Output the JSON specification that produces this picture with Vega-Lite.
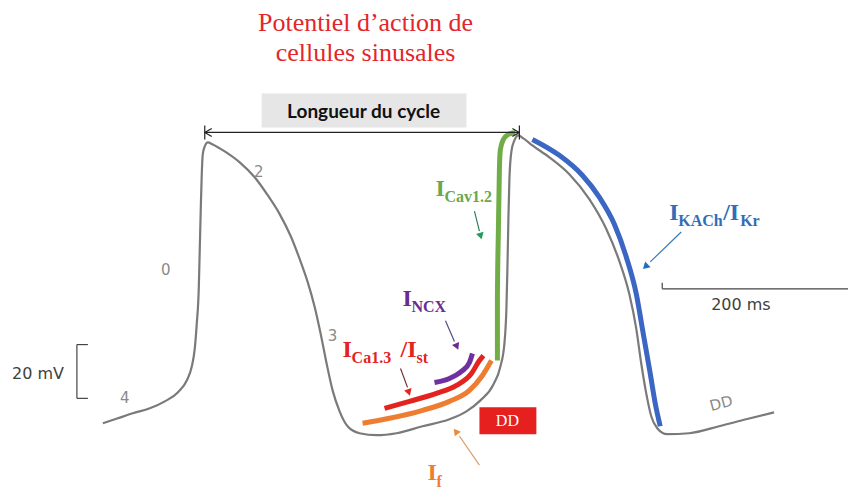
{
  "$schema": "https://vega.github.io/schema/vega-lite/v6.json",
  "width": 849,
  "height": 490,
  "autosize": {"type": "fit", "contains": "padding"},
  "padding": 0,
  "background": "white",
  "config": {"view": {"stroke": null}},
  "resolve": {"scale": {"stroke": "independent", "fill": "independent", "color": "independent", "size": "independent"}},
  "datasets": {
    "trace": [
      {"s":"AP","o":0,"x":103,"y":425},{"s":"AP","o":1,"x":118,"y":420},{"s":"AP","o":2,"x":133,"y":415},{"s":"AP","o":3,"x":150,"y":410},
      {"s":"AP","o":4,"x":165,"y":403},{"s":"AP","o":5,"x":178,"y":394},{"s":"AP","o":6,"x":187,"y":382},{"s":"AP","o":7,"x":192,"y":368},
      {"s":"AP","o":8,"x":195,"y":350},{"s":"AP","o":9,"x":197,"y":325},{"s":"AP","o":10,"x":199,"y":290},{"s":"AP","o":11,"x":200,"y":250},
      {"s":"AP","o":12,"x":201,"y":210},{"s":"AP","o":13,"x":202,"y":175},{"s":"AP","o":14,"x":203,"y":155},{"s":"AP","o":15,"x":205,"y":147},
      {"s":"AP","o":16,"x":208,"y":143},{"s":"AP","o":17,"x":213,"y":145},{"s":"AP","o":18,"x":225,"y":152},{"s":"AP","o":19,"x":240,"y":163},
      {"s":"AP","o":20,"x":255,"y":178},{"s":"AP","o":21,"x":268,"y":196},{"s":"AP","o":22,"x":280,"y":215},{"s":"AP","o":23,"x":291,"y":237},
      {"s":"AP","o":24,"x":300,"y":260},{"s":"AP","o":25,"x":308,"y":283},{"s":"AP","o":26,"x":315,"y":308},{"s":"AP","o":27,"x":321,"y":335},
      {"s":"AP","o":28,"x":327,"y":365},{"s":"AP","o":29,"x":333,"y":392},{"s":"AP","o":30,"x":340,"y":413},{"s":"AP","o":31,"x":348,"y":428},
      {"s":"AP","o":32,"x":360,"y":435},{"s":"AP","o":33,"x":377,"y":437},{"s":"AP","o":34,"x":397,"y":435},{"s":"AP","o":35,"x":423,"y":428},
      {"s":"AP","o":36,"x":450,"y":421},{"s":"AP","o":37,"x":467,"y":413},{"s":"AP","o":38,"x":481,"y":402},{"s":"AP","o":39,"x":494,"y":386},
      {"s":"AP","o":40,"x":501,"y":368},{"s":"AP","o":41,"x":505,"y":345},{"s":"AP","o":42,"x":507,"y":310},{"s":"AP","o":43,"x":508,"y":270},
      {"s":"AP","o":44,"x":509,"y":220},{"s":"AP","o":45,"x":510,"y":180},{"s":"AP","o":46,"x":512,"y":152},{"s":"AP","o":47,"x":515,"y":141},
      {"s":"AP","o":48,"x":519,"y":136},{"s":"AP","o":49,"x":524,"y":139},{"s":"AP","o":50,"x":533,"y":146},{"s":"AP","o":51,"x":550,"y":158},
      {"s":"AP","o":52,"x":570,"y":175},{"s":"AP","o":53,"x":590,"y":200},{"s":"AP","o":54,"x":607,"y":230},{"s":"AP","o":55,"x":620,"y":262},
      {"s":"AP","o":56,"x":630,"y":295},{"s":"AP","o":57,"x":637,"y":330},{"s":"AP","o":58,"x":642,"y":365},{"s":"AP","o":59,"x":647,"y":395},
      {"s":"AP","o":60,"x":652,"y":418},{"s":"AP","o":61,"x":658,"y":430},{"s":"AP","o":62,"x":668,"y":436},{"s":"AP","o":63,"x":690,"y":435},
      {"s":"AP","o":64,"x":720,"y":428},{"s":"AP","o":65,"x":747,"y":421},{"s":"AP","o":66,"x":775,"y":414},
      {"s":"Cav","o":0,"x":498,"y":362},{"s":"Cav","o":1,"x":498,"y":300},{"s":"Cav","o":2,"x":499,"y":230},{"s":"Cav","o":3,"x":500,"y":170},
      {"s":"Cav","o":4,"x":501,"y":150},{"s":"Cav","o":5,"x":504,"y":140},{"s":"Cav","o":6,"x":509,"y":135},{"s":"Cav","o":7,"x":516,"y":133},
      {"s":"f","o":0,"x":363,"y":425},{"s":"f","o":1,"x":390,"y":420},{"s":"f","o":2,"x":423,"y":412},{"s":"f","o":3,"x":450,"y":403},
      {"s":"f","o":4,"x":470,"y":392},{"s":"f","o":5,"x":483,"y":377},{"s":"f","o":6,"x":492,"y":362},
      {"s":"Ca13","o":0,"x":385,"y":410},{"s":"Ca13","o":1,"x":410,"y":403},{"s":"Ca13","o":2,"x":437,"y":395},{"s":"Ca13","o":3,"x":457,"y":387},
      {"s":"Ca13","o":4,"x":472,"y":375},{"s":"Ca13","o":5,"x":480,"y":362},{"s":"Ca13","o":6,"x":484,"y":357},
      {"s":"NCX","o":0,"x":435,"y":384},{"s":"NCX","o":1,"x":450,"y":380},{"s":"NCX","o":2,"x":462,"y":373},{"s":"NCX","o":3,"x":470,"y":364},
      {"s":"NCX","o":4,"x":473,"y":355},
      {"s":"K","o":0,"x":533,"y":140},{"s":"K","o":1,"x":560,"y":156},{"s":"K","o":2,"x":583,"y":176},{"s":"K","o":3,"x":600,"y":198},
      {"s":"K","o":4,"x":615,"y":225},{"s":"K","o":5,"x":627,"y":258},{"s":"K","o":6,"x":637,"y":295},{"s":"K","o":7,"x":644,"y":335},
      {"s":"K","o":8,"x":651,"y":375},{"s":"K","o":9,"x":656,"y":405},{"s":"K","o":10,"x":661,"y":428}
    ],
    "segments": [
      {"k":"black","x":205,"y":133,"x2":520,"y2":133},
      {"k":"black","x":205,"y":126,"x2":205,"y2":140},
      {"k":"black","x":520,"y":126,"x2":520,"y2":140},
      {"k":"black","x":205,"y":133,"x2":212,"y2":129},
      {"k":"black","x":205,"y":133,"x2":212,"y2":137},
      {"k":"black","x":520,"y":133,"x2":513,"y2":129},
      {"k":"black","x":520,"y":133,"x2":513,"y2":137},
      {"k":"dark","x":77,"y":346,"x2":77,"y2":400},
      {"k":"dark","x":77,"y":346,"x2":88,"y2":346},
      {"k":"dark","x":77,"y":400,"x2":88,"y2":400},
      {"k":"dark","x":663,"y":290,"x2":849,"y2":290},
      {"k":"dark","x":663,"y":284,"x2":663,"y2":290},
      {"k":"Cav","x":475,"y":212,"x2":480,"y2":232},
      {"k":"NCX","x":446,"y":322,"x2":455,"y2":343},
      {"k":"Ca13","x":401,"y":370,"x2":408,"y2":389},
      {"k":"f","x":480,"y":467,"x2":460,"y2":438},
      {"k":"K","x":682,"y":233,"x2":651,"y2":263}
    ],
    "heads": [
      {"k":"Cav","x":481,"y":236,"a":165},
      {"k":"NCX","x":457,"y":347,"a":156},
      {"k":"Ca13","x":409,"y":393,"a":162},
      {"k":"f","x":457,"y":434,"a":323},
      {"k":"K","x":647,"y":267,"a":226}
    ],
    "boxes": [
      {"b":"cycle","x":262,"y":94,"x2":467,"y2":128},
      {"b":"dd","x":480,"y":409,"x2":537,"y2":436}
    ],
    "titles": [
      {"t":"Potentiel d’action de","x":366,"y":31},
      {"t":"cellules sinusales","x":366,"y":61}
    ],
    "currents": [
      {"k":"Cav","r":"main","t":"I","x":436,"y":197},
      {"k":"Cav","r":"sub","t":"Cav1.2","x":445,"y":203},
      {"k":"NCX","r":"main","t":"I","x":403,"y":307},
      {"k":"NCX","r":"sub","t":"NCX","x":412,"y":313},
      {"k":"Ca13","r":"main","t":"I","x":343,"y":358},
      {"k":"Ca13","r":"sub","t":"Ca1.3","x":352,"y":364},
      {"k":"Ca13","r":"main","t":"/I","x":401,"y":358},
      {"k":"Ca13","r":"sub","t":"st","x":417,"y":364},
      {"k":"f","r":"main","t":"I","x":428,"y":482},
      {"k":"f","r":"sub","t":"f","x":437,"y":489},
      {"k":"K","r":"main","t":"I","x":670,"y":221},
      {"k":"K","r":"sub","t":"KACh","x":679,"y":227},
      {"k":"K","r":"main","t":"/I","x":724,"y":221},
      {"k":"K","r":"sub","t":"Kr","x":741,"y":227}
    ],
    "phases": [
      {"t":"0","x":166,"y":271},
      {"t":"2","x":259,"y":173},
      {"t":"3","x":333,"y":337},
      {"t":"4","x":125,"y":400}
    ],
    "scales": [
      {"t":"20 mV","x":12,"y":376},
      {"t":"200 ms","x":712,"y":306}
    ]
  },
  "layer": [
    {
      "data": {"name": "boxes"},
      "mark": {"type": "rect"},
      "encoding": {
        "x": {"field": "x", "type": "quantitative", "scale": {"domain": [0, 849], "nice": false, "zero": false}, "axis": null},
        "x2": {"field": "x2"},
        "y": {"field": "y", "type": "quantitative", "scale": {"domain": [0, 490], "nice": false, "zero": false, "reverse": true}, "axis": null},
        "y2": {"field": "y2"},
        "fill": {"field": "b", "type": "nominal", "scale": {"domain": ["cycle", "dd"], "range": ["#e7e6e6", "#e5201f"]}, "legend": null}
      }
    },
    {
      "data": {"name": "trace"},
      "transform": [{"filter": "datum.s === 'AP'"}],
      "mark": {"type": "line", "color": "#7a7a7a", "strokeWidth": 2.2, "strokeJoin": "round", "interpolate": "monotone"},
      "encoding": {
        "x": {"field": "x", "type": "quantitative"},
        "y": {"field": "y", "type": "quantitative"},
        "order": {"field": "o"}
      }
    },
    {
      "data": {"name": "trace"},
      "transform": [{"filter": "datum.s !== 'AP'"}],
      "mark": {"type": "line", "strokeWidth": 5, "strokeCap": "butt", "strokeJoin": "round", "interpolate": "monotone"},
      "encoding": {
        "x": {"field": "x", "type": "quantitative"},
        "y": {"field": "y", "type": "quantitative"},
        "order": {"field": "o"},
        "detail": {"field": "s"},
        "stroke": {"field": "s", "type": "nominal", "scale": {"domain": ["Cav", "NCX", "Ca13", "f", "K"], "range": ["#70ad47", "#7030a0", "#e3231e", "#ed7d31", "#3b66c3"]}, "legend": null}
      }
    },
    {
      "data": {"name": "segments"},
      "mark": {"type": "rule", "strokeWidth": 1.2},
      "encoding": {
        "x": {"field": "x", "type": "quantitative"},
        "x2": {"field": "x2"},
        "y": {"field": "y", "type": "quantitative"},
        "y2": {"field": "y2"},
        "stroke": {"field": "k", "type": "nominal", "scale": {"domain": ["black", "dark", "Cav", "NCX", "Ca13", "f", "K"], "range": ["#222222", "#444444", "#2e7d5b", "#5a4a8a", "#7a3030", "#d9a070", "#3c7ab5"]}, "legend": null}
      }
    },
    {
      "data": {"name": "heads"},
      "mark": {"type": "point", "shape": "triangle", "filled": true, "size": 60, "opacity": 1},
      "encoding": {
        "x": {"field": "x", "type": "quantitative"},
        "y": {"field": "y", "type": "quantitative"},
        "angle": {"field": "a", "type": "quantitative", "scale": null},
        "fill": {"field": "k", "type": "nominal", "scale": {"domain": ["Cav", "NCX", "Ca13", "f", "K"], "range": ["#1e9e5a", "#6a2c91", "#e3231e", "#ed8a3a", "#1f6fc0"]}, "legend": null}
      }
    },
    {
      "data": {"name": "titles"},
      "mark": {"type": "text", "font": "Liberation Serif", "fontSize": 26, "color": "#e3262c", "align": "center", "baseline": "alphabetic"},
      "encoding": {
        "x": {"field": "x", "type": "quantitative"},
        "y": {"field": "y", "type": "quantitative"},
        "text": {"field": "t"}
      }
    },
    {
      "data": {"values": [{"t": "Longueur du cycle", "x": 364, "y": 112}]},
      "mark": {"type": "text", "font": "Lato", "fontWeight": "bold", "fontSize": 19, "color": "#111111", "align": "center", "baseline": "middle"},
      "encoding": {
        "x": {"field": "x", "type": "quantitative"},
        "y": {"field": "y", "type": "quantitative"},
        "text": {"field": "t"}
      }
    },
    {
      "data": {"name": "currents"},
      "mark": {"type": "text", "font": "Liberation Serif", "fontWeight": "bold", "align": "left", "baseline": "alphabetic"},
      "encoding": {
        "x": {"field": "x", "type": "quantitative"},
        "y": {"field": "y", "type": "quantitative"},
        "text": {"field": "t"},
        "size": {"field": "r", "type": "nominal", "scale": {"domain": ["main", "sub"], "range": [24, 16]}, "legend": null},
        "fill": {"field": "k", "type": "nominal", "scale": {"domain": ["Cav", "NCX", "Ca13", "f", "K"], "range": ["#6aa84f", "#6a2c91", "#e3231e", "#ed7d31", "#2e6fb8"]}, "legend": null}
      }
    },
    {
      "data": {"name": "phases"},
      "mark": {"type": "text", "font": "DejaVu Sans", "fontSize": 15, "color": "#8a8a8a", "align": "center", "baseline": "middle"},
      "encoding": {
        "x": {"field": "x", "type": "quantitative"},
        "y": {"field": "y", "type": "quantitative"},
        "text": {"field": "t"}
      }
    },
    {
      "data": {"name": "scales"},
      "mark": {"type": "text", "font": "DejaVu Sans", "fontSize": 16, "color": "#404040", "align": "left", "baseline": "middle"},
      "encoding": {
        "x": {"field": "x", "type": "quantitative"},
        "y": {"field": "y", "type": "quantitative"},
        "text": {"field": "t"}
      }
    },
    {
      "data": {"values": [{"t": "DD", "x": 722, "y": 405}]},
      "mark": {"type": "text", "font": "DejaVu Sans", "fontSize": 15, "color": "#8a8a8a", "align": "center", "baseline": "middle", "angle": 345},
      "encoding": {
        "x": {"field": "x", "type": "quantitative"},
        "y": {"field": "y", "type": "quantitative"},
        "text": {"field": "t"}
      }
    },
    {
      "data": {"values": [{"t": "DD", "x": 508, "y": 423}]},
      "mark": {"type": "text", "font": "Liberation Serif", "fontSize": 16, "color": "#ffffff", "align": "center", "baseline": "middle"},
      "encoding": {
        "x": {"field": "x", "type": "quantitative"},
        "y": {"field": "y", "type": "quantitative"},
        "text": {"field": "t"}
      }
    }
  ]
}
